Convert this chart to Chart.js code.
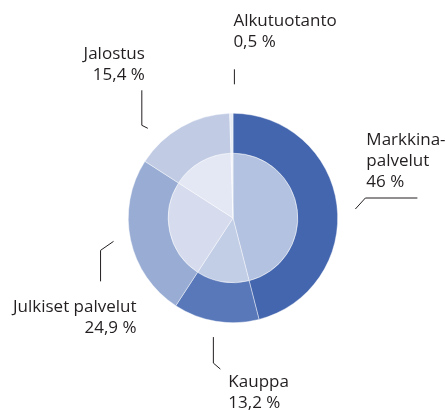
<!DOCTYPE html>
<html>
<head>
<meta charset="utf-8">
<script src="https://cdn.jsdelivr.net/npm/chart.js@4"></script>
<style>
  html, body { margin: 0; padding: 0; background: #fff; }
  #wrap { width: 445px; height: 411px; position: relative; }
</style>
</head>
<body>
<div id="wrap"><canvas id="chart" width="445" height="411"></canvas></div>
<script>
// Data: order is clockwise from 12 o'clock
const categories = ['Markkinapalvelut', 'Kauppa', 'Julkiset palvelut', 'Jalostus', 'Alkutuotanto'];
const shares = [46, 13.2, 24.9, 15.4, 0.5];
const labelLines = [
    ['Markkina-', 'palvelut', '46 %'],
    ['Kauppa', '13,2 %'],
    ['Julkiset palvelut', '24,9 %'],
    ['Jalostus', '15,4 %'],
    ['Alkutuotanto', '0,5 %']
];

const outerColors = ['#4466ae', '#5878b9', '#98acd4', '#c1cce4', '#e8ecf5'];
const innerColors = ['#b3c2e0', '#c2cde6', '#d6dcee', '#e4e8f4', '#f2f4fa'];

// Label layout: anchor sits at outer radius + gap along the slice mid angle (nudged by angle offset),
// leader is a polyline of offsets from the anchor, text is placed relative to the anchor
const labelLayout = [
    { nudge: 3, gap: 18, leader: [[0, 0], [10, -11], [62, -11]], text: [11, -64], align: 'left' },
    { nudge: 0, gap: 16, leader: [[0, 0], [0, 26], [7, 32]], text: [15, 50], align: 'left' },
    { nudge: 1, gap: 17, leader: [[0, 0], [-13, 9], [-13, 40]], text: [23, 71], align: 'right' },
    { nudge: -14, gap: 19, leader: [[0, 0], [-6, -3], [-6, -38]], text: [-3, -69], align: 'right' },
    { nudge: 1.5, gap: 29, leader: [[0, 0], [0, -15]], text: [-1, -58], align: 'left' }
];

const FONT = '17px "Open Sans", sans-serif';
const LINE_H = 21;

const leaderLabels = {
    id: 'leaderLabels',
    afterDraw(chart) {
        const ctx = chart.ctx;
        const meta = chart.getDatasetMeta(0);
        ctx.save();
        ctx.font = FONT;
        ctx.fillStyle = '#231f20';
        ctx.strokeStyle = '#231f20';
        ctx.lineWidth = 1;
        meta.data.forEach((arc, i) => {
            const p = arc.getProps(['x', 'y', 'startAngle', 'endAngle', 'outerRadius'], true);
            const lay = labelLayout[i];
            const mid = (p.startAngle + p.endAngle) / 2 + lay.nudge * Math.PI / 180;
            const r = p.outerRadius + lay.gap;
            const ax = p.x + Math.cos(mid) * r;
            const ay = p.y + Math.sin(mid) * r;

            ctx.beginPath();
            lay.leader.forEach((pt, k) => {
                if (k === 0) ctx.moveTo(ax + pt[0], ay + pt[1]);
                else ctx.lineTo(ax + pt[0], ay + pt[1]);
            });
            ctx.stroke();

            ctx.textAlign = lay.align;
            ctx.textBaseline = 'alphabetic';
            labelLines[i].forEach((line, k) => {
                ctx.fillText(line, ax + lay.text[0], ay + lay.text[1] + k * LINE_H);
            });
        });
        ctx.restore();
    }
};

new Chart(document.getElementById('chart'), {
    type: 'doughnut',
    data: {
        labels: categories,
        datasets: [
            {
                data: shares,
                backgroundColor: outerColors,
                borderColor: 'rgba(255,255,255,0.7)',
                borderWidth: 0.6,
                weight: 40
            },
            {
                data: shares,
                backgroundColor: innerColors,
                borderColor: 'rgba(255,255,255,0.7)',
                borderWidth: 0.6,
                weight: 65
            }
        ]
    },
    options: {
        responsive: false,
        animation: false,
        cutout: 0,
        layout: {
            padding: { top: 113, bottom: 88, left: 128, right: 107 }
        },
        plugins: {
            legend: { display: false },
            tooltip: { enabled: false }
        }
    },
    plugins: [leaderLabels]
});
</script>
</body>
</html>
